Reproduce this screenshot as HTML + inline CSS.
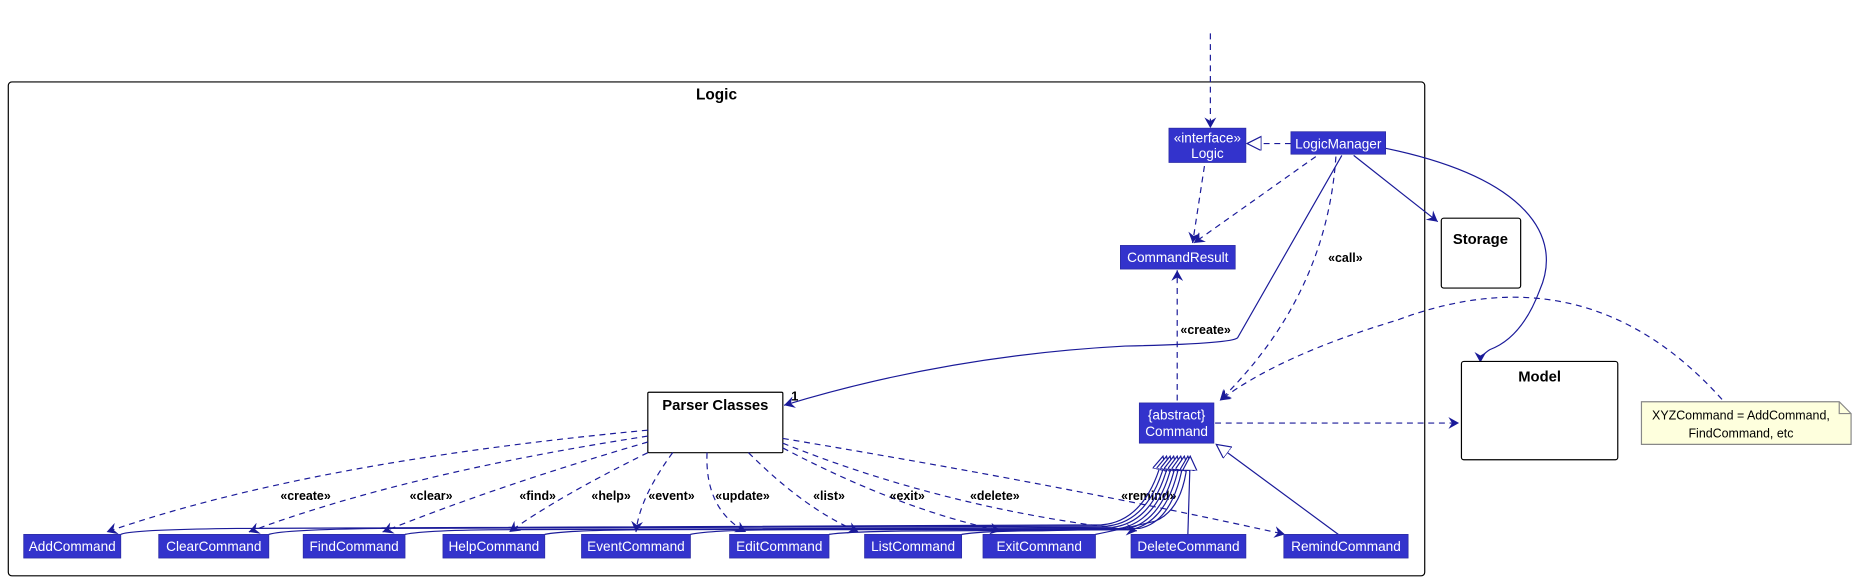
<!DOCTYPE html>
<html><head><meta charset="utf-8"><style>
html,body{margin:0;padding:0;background:#fff;}
svg{display:block;}
text{font-family:"Liberation Sans",sans-serif;}
.b{fill:#3333CC;stroke:#2a2aa0;stroke-width:0.6}
.t{fill:#fff;font-size:11.5px;text-anchor:middle}
.l{font-size:10.5px;font-weight:bold;text-anchor:middle;fill:#000}
.d{fill:none;stroke:#1a1a99;stroke-width:1;stroke-dasharray:5,4}
.s{fill:none;stroke:#1a1a99;stroke-width:1}
</style></head><body>
<svg width="1857" height="582" viewBox="0 0 1568 491" xmlns="http://www.w3.org/2000/svg">
<defs>
<marker id="a" markerWidth="10" markerHeight="10" refX="9" refY="5" orient="auto" markerUnits="userSpaceOnUse">
<path d="M0,0 L9,5 L0,10 L3,5 Z" fill="#1a1a99"/></marker>
<marker id="tri" markerWidth="14" markerHeight="14" refX="12" refY="6" orient="auto" markerUnits="userSpaceOnUse">
<path d="M0,0 L12,6 L0,12 Z" fill="#fff" stroke="#1a1a99"/></marker>
</defs>
<rect x="7" y="69" width="1196" height="417" rx="3" fill="none" stroke="#000" stroke-width="1"/>
<text x="605" y="84" style="font-size:13px;font-weight:bold;text-anchor:middle">Logic</text>

<path class="d" d="M1022,28 L1022,108" marker-end="url(#a)"/>
<path class="d" d="M1090,121 L1053,121" marker-end="url(#tri)"/>
<path class="d" d="M1017,140 L1007,205" marker-end="url(#a)"/>
<path class="d" d="M1111,132 L1008,205" marker-end="url(#a)"/>
<path class="s" d="M1133,131 L1045,285 Q1040,290 950,292 Q800,300 662,342" marker-end="url(#a)"/>
<text x="668" y="338" style="font-size:11px;font-weight:bold">1</text>
<path class="d" d="M1128,132 Q1120,250 1030,338" marker-end="url(#a)"/>
<text x="1136" y="221" class="l">«call»</text>
<path class="s" d="M1143,131 L1214,187" marker-end="url(#a)"/>
<path class="s" d="M1170,125 C1290,150 1320,200 1300,245 Q1285,285 1258,295 Q1250,300 1250,306" marker-end="url(#a)"/>
<path class="d" d="M994,338 L994,228" marker-end="url(#a)"/>
<text x="1018" y="282" class="l">«create»</text>
<path class="d" d="M1454,337 Q1340,210 1180,270 Q1080,300 1030,338" marker-end="url(#a)"/>
<path class="d" d="M1026,357 L1232,357" marker-end="url(#a)"/>

<rect class="b" x="987" y="108" width="65" height="29"/>
<text class="t" x="1019.5" y="120">«interface»</text>
<text class="t" x="1019.5" y="133">Logic</text>
<rect class="b" x="1090" y="111" width="80" height="19"/>
<text class="t" x="1130" y="125">LogicManager</text>
<rect class="b" x="946" y="207" width="97" height="20"/>
<text class="t" x="994.5" y="221">CommandResult</text>
<rect x="1217" y="184" width="67" height="59" rx="2" fill="#fff" stroke="#000"/>
<text x="1250" y="206" style="font-size:12.5px;font-weight:bold;text-anchor:middle">Storage</text>
<rect x="1234" y="305" width="132" height="83" rx="2" fill="#fff" stroke="#000"/>
<text x="1300" y="322" style="font-size:12.5px;font-weight:bold;text-anchor:middle">Model</text>
<path d="M1386,339 L1553,339 L1563,349 L1563,375 L1386,375 Z" fill="#FEFFDD" stroke="#888"/>
<path d="M1553,339 L1553,349 L1563,349" fill="none" stroke="#888"/>
<text x="1470" y="354" style="font-size:10.5px;text-anchor:middle">XYZCommand = AddCommand,</text>
<text x="1470" y="369" style="font-size:10.5px;text-anchor:middle">FindCommand, etc</text>
<rect x="547" y="331" width="114" height="51" rx="1" fill="#fff" stroke="#000"/>
<text x="604" y="346" style="font-size:12.5px;font-weight:bold;text-anchor:middle">Parser Classes</text>
<rect class="b" x="962" y="340" width="63" height="34"/>
<text class="t" x="993.5" y="354">{abstract}</text>
<text class="t" x="993.5" y="368">Command</text>

<path class="d" d="M547,363 Q260,390 90,449" marker-end="url(#a)"/>
<path class="d" d="M547,368 Q340,400 210,449" marker-end="url(#a)"/>
<path class="d" d="M547,373 Q420,410 323,449" marker-end="url(#a)"/>
<path class="d" d="M547,382 Q470,420 430,449" marker-end="url(#a)"/>
<path class="d" d="M568,382 Q540,420 537,449" marker-end="url(#a)"/>
<path class="d" d="M597,382 Q595,430 630,449" marker-end="url(#a)"/>
<path class="d" d="M632,382 Q680,430 725,449" marker-end="url(#a)"/>
<path class="d" d="M661,378 Q760,430 845,448" marker-end="url(#a)"/>
<path class="d" d="M661,374 Q800,430 960,448" marker-end="url(#a)"/>
<path class="d" d="M661,370 Q900,410 1085,451" marker-end="url(#a)"/>
<text class="l" x="258" y="422">«create»</text>
<text class="l" x="364" y="422">«clear»</text>
<text class="l" x="454" y="422">«find»</text>
<text class="l" x="516" y="422">«help»</text>
<text class="l" x="567" y="422">«event»</text>
<text class="l" x="627" y="422">«update»</text>
<text class="l" x="700" y="422">«list»</text>
<text class="l" x="766" y="422">«exit»</text>
<text class="l" x="840" y="422">«delete»</text>
<text class="l" x="970" y="422">«remind»</text>

<path class="s" d="M102,451 Q110,447 200,446 L930,443 Q968,440 982,385" marker-end="url(#tri)"/>
<path class="s" d="M227,451 Q240,447 320,446 L935,444 Q972,440 985,385" marker-end="url(#tri)"/>
<path class="s" d="M342,451 Q360,447 440,447 L940,445 Q976,440 988,385" marker-end="url(#tri)"/>
<path class="s" d="M460,451 Q480,447 560,447 L945,446 Q980,440 991,385" marker-end="url(#tri)"/>
<path class="s" d="M583,451 Q600,447 680,447 L950,447 Q984,440 994,385" marker-end="url(#tri)"/>
<path class="s" d="M700,451 Q720,448 800,448 L955,447 Q988,440 997,385" marker-end="url(#tri)"/>
<path class="s" d="M812,451 Q830,448 880,448 L962,446 Q992,440 1000,385" marker-end="url(#tri)"/>
<path class="s" d="M925,451 Q945,447 975,440 Q1000,430 1003,385" marker-end="url(#tri)"/>
<path class="s" d="M1003,451 L1005,385" marker-end="url(#tri)"/>
<path class="s" d="M1130,451 L1027,375" marker-end="url(#tri)"/>

<rect class="b" x="20" y="451" width="82" height="20"/><text class="t" x="61" y="465">AddCommand</text>
<rect class="b" x="134" y="451" width="93" height="20"/><text class="t" x="180.5" y="465">ClearCommand</text>
<rect class="b" x="256" y="451" width="86" height="20"/><text class="t" x="299" y="465">FindCommand</text>
<rect class="b" x="374" y="451" width="86" height="20"/><text class="t" x="417" y="465">HelpCommand</text>
<rect class="b" x="491" y="451" width="92" height="20"/><text class="t" x="537" y="465">EventCommand</text>
<rect class="b" x="616" y="451" width="84" height="20"/><text class="t" x="658" y="465">EditCommand</text>
<rect class="b" x="730" y="451" width="82" height="20"/><text class="t" x="771" y="465">ListCommand</text>
<rect class="b" x="830" y="451" width="95" height="20"/><text class="t" x="877.5" y="465">ExitCommand</text>
<rect class="b" x="955" y="451" width="97" height="20"/><text class="t" x="1003.5" y="465">DeleteCommand</text>
<rect class="b" x="1084" y="451" width="105" height="20"/><text class="t" x="1136.5" y="465">RemindCommand</text>
</svg>
</body></html>
